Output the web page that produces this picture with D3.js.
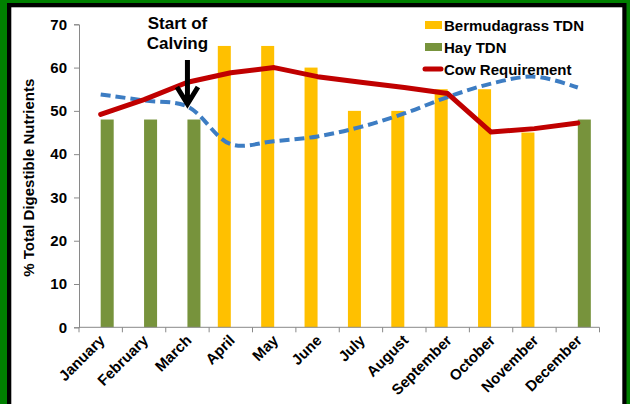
<!DOCTYPE html>
<html>
<head>
<meta charset="utf-8">
<script src="https://cdn.jsdelivr.net/npm/d3@7"></script>
<style>
  body { margin: 0; padding: 0; background: #fff; }
  svg { display: block; }
  text { font-family: "Liberation Sans", Arial, sans-serif; font-weight: bold; fill: #000; }
</style>
</head>
<body>
<div id="chart"></div>
<script>
var months = ["January", "February", "March", "April", "May", "June", "July",
  "August", "September", "October", "November", "December"];
var bermudaTDN = [null, null, null, 65, 65, 60, 50, 50, 55, 55, 45, null];
var hayTDN = [48, 48, 48, null, null, null, null, null, null, null, null, 48];
var cowRequirement = [49.2, 52.6, 56.6, 58.8, 60, 57.9, 56.6, 55.4, 54, 45.1, 45.9, 47.2];
var forageTrend = [53.8, 52.4, 51, 42.3, 43, 44.1, 46.3, 49.4, 53.2, 56.3, 57.9, 55.4];
var yTicks = [0, 10, 20, 30, 40, 50, 60, 70];
var seriesNames = ["Bermudagrass TDN", "Hay TDN"];

var W = 630, H = 404;
var pLeft = 79, pRight = 599.5, pTop = 24.3, pBottom = 327.3;

var svg = d3.select("#chart").append("svg")
  .attr("width", W)
  .attr("height", H);

// frame: green, black, white
svg.append("rect").attr("width", W).attr("height", H).attr("fill", "#008000");
svg.append("rect").attr("x", 7).attr("y", 3).attr("width", 619.5).attr("height", H).attr("fill", "#000");
svg.append("rect").attr("x", 11.3).attr("y", 7.3).attr("width", 611).attr("height", H).attr("fill", "#fff");

var x = d3.scaleBand().domain(months).range([pLeft, pRight]).paddingInner(0).paddingOuter(0);
var xs = d3.scaleBand().domain(seriesNames).range([0, x.bandwidth()]).paddingInner(0).paddingOuter(0.667);
var y = d3.scaleLinear().domain([0, 70]).range([pBottom, pTop]);

function cx(m) { return x(m) + x.bandwidth() / 2; }

// bars
var colors = { "Bermudagrass TDN": "#FFC000", "Hay TDN": "#77933C" };
var barData = [];
months.forEach(function (m, i) {
  if (bermudaTDN[i] != null) barData.push({ m: m, s: "Bermudagrass TDN", v: bermudaTDN[i] });
  if (hayTDN[i] != null) barData.push({ m: m, s: "Hay TDN", v: hayTDN[i] });
});

svg.append("g").selectAll("rect")
  .data(barData)
  .enter()
  .append("rect")
  .attr("x", function (d) { return x(d.m) + xs(d.s); })
  .attr("y", function (d) { return y(d.v); })
  .attr("width", xs.bandwidth())
  .attr("height", function (d) { return y(0) - y(d.v); })
  .attr("fill", function (d) { return colors[d.s]; });

// axes
var yAxis = svg.append("g")
  .attr("transform", "translate(" + pLeft + ",0)")
  .call(d3.axisLeft(y).tickValues(yTicks).tickSize(5).tickPadding(7));
yAxis.select(".domain").attr("stroke", "#898989");
yAxis.selectAll(".tick line").attr("stroke", "#898989");
yAxis.selectAll("text").attr("font-size", "15px").attr("font-family", null);

var xAxis = svg.append("g")
  .attr("transform", "translate(0," + pBottom + ")");
xAxis.append("line")
  .attr("x1", pLeft).attr("x2", pRight)
  .attr("stroke", "#898989");
xAxis.selectAll("line.tk")
  .data(months.concat(["end"]))
  .enter()
  .append("line")
  .attr("class", "tk")
  .attr("x1", function (d, i) { return pLeft + i * x.step(); })
  .attr("x2", function (d, i) { return pLeft + i * x.step(); })
  .attr("y1", 0).attr("y2", 5)
  .attr("stroke", "#898989");
xAxis.selectAll("text")
  .data(months)
  .enter()
  .append("text")
  .attr("transform", function (d) { return "translate(" + (cx(d) + 5) + ",14) rotate(-45)"; })
  .attr("text-anchor", "end")
  .attr("font-size", "15px")
  .text(function (d) { return d; });

// y title
svg.append("text")
  .attr("transform", "translate(34," + ((pTop + pBottom) / 2 + 2) + ") rotate(-90)")
  .attr("text-anchor", "middle")
  .attr("font-size", "15px")
  .text("% Total Digestible Nutrients");

// dashed trend line
var smooth = d3.line()
  .x(function (d, i) { return cx(months[i]); })
  .y(function (d) { return y(d); })
  .curve(d3.curveCatmullRom.alpha(0.5));

svg.append("path")
  .datum(forageTrend)
  .attr("d", smooth)
  .attr("fill", "none")
  .attr("stroke", "#3D7DC3")
  .attr("stroke-width", 4)
  .attr("stroke-dasharray", "10,5");

// cow requirement line
var straight = d3.line()
  .x(function (d, i) { return cx(months[i]); })
  .y(function (d) { return y(d); });

svg.append("path")
  .datum(cowRequirement)
  .attr("d", straight)
  .attr("fill", "none")
  .attr("stroke", "#C00000")
  .attr("stroke-width", 5)
  .attr("stroke-linejoin", "round")
  .attr("stroke-linecap", "round");

// annotation
var ax = cx("March");
svg.append("text").attr("x", ax - 10).attr("y", 28.5).attr("text-anchor", "middle")
  .attr("font-size", "17px").text("Start of");
svg.append("text").attr("x", ax - 10).attr("y", 48.5).attr("text-anchor", "middle")
  .attr("font-size", "17px").text("Calving");
svg.append("path")
  .attr("d", "M" + ax + ",60V104M" + (ax - 10.5) + ",87L" + ax + ",104L" + (ax + 10.5) + ",87")
  .attr("fill", "none")
  .attr("stroke", "#000")
  .attr("stroke-width", 5);

// legend
var legend = svg.append("g").attr("transform", "translate(423,25)");
var items = [
  { name: "Bermudagrass TDN", type: "bar", color: colors["Bermudagrass TDN"] },
  { name: "Hay TDN", type: "bar", color: colors["Hay TDN"] },
  { name: "Cow Requirement", type: "line", color: "#C00000" }
];
items.forEach(function (it, i) {
  var g = legend.append("g").attr("transform", "translate(0," + (i * 22) + ")");
  if (it.type == "bar") {
    g.append("rect").attr("x", 2).attr("y", -4).attr("width", 17).attr("height", 8).attr("fill", it.color);
  } else {
    g.append("line").attr("x1", 2).attr("x2", 18).attr("y1", 0).attr("y2", 0)
      .attr("stroke", it.color).attr("stroke-width", 5).attr("stroke-linecap", "round");
  }
  g.append("text").attr("x", 21).attr("y", 5.5).attr("font-size", "15px").text(it.name);
});
</script>
</body>
</html>
